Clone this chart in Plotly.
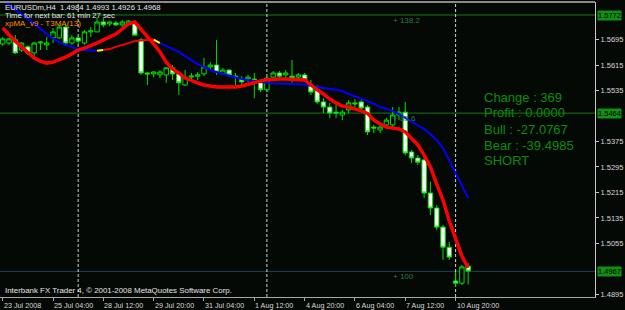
import plotly.graph_objects as go

# ---------------- data ----------------
bars = list(range(75))

opens = [1.5681, 1.5684, 1.5694, 1.5662, 1.5672, 1.5653, 1.5684, 1.5678, 1.5700, 1.5700,
         1.5734, 1.5684, 1.5700, 1.5684, 1.5719, 1.5719, 1.5750, 1.5744, 1.5747, 1.5741,
         1.5744, 1.5747, 1.5694, 1.5590, 1.5587, 1.5584, 1.5584, 1.5606, 1.5587, 1.5552,
         1.5577, 1.5580, 1.5587, 1.5609, 1.5615, 1.5587, 1.5599, 1.5580, 1.5571, 1.5571,
         1.5571, 1.5559, 1.5537, 1.5577, 1.5590, 1.5584, 1.5580, 1.5577, 1.5584, 1.5552,
         1.5537, 1.5499, 1.5483, 1.5467, 1.5458, 1.5474, 1.5496, 1.5499, 1.5483, 1.5420,
         1.5411, 1.5427, 1.5427, 1.5458, 1.5467, 1.5342, 1.5323, 1.5317, 1.5213, 1.5166,
         1.5106, 1.5043, 1.4937, 1.4930, 1.4984]
highs = [1.5703, 1.5700, 1.5709, 1.5687, 1.5678, 1.5687, 1.5690, 1.5703, 1.5731, 1.5741,
         1.5741, 1.5709, 1.5709, 1.5725, 1.5734, 1.5763, 1.5763, 1.5753, 1.5753, 1.5756,
         1.5756, 1.5753, 1.5700, 1.5593, 1.5596, 1.5599, 1.5609, 1.5615, 1.5593, 1.5599,
         1.5590, 1.5593, 1.5637, 1.5624, 1.5694, 1.5606, 1.5602, 1.5590, 1.5580, 1.5584,
         1.5590, 1.5565, 1.5580, 1.5596, 1.5596, 1.5599, 1.5631, 1.5590, 1.5590, 1.5568,
         1.5552, 1.5511, 1.5496, 1.5496, 1.5474, 1.5505, 1.5508, 1.5505, 1.5489, 1.5427,
         1.5433, 1.5449, 1.5483, 1.5483, 1.5499, 1.5348, 1.5332, 1.5323, 1.5248, 1.5175,
         1.5113, 1.5059, 1.4965, 1.4987, 1.4993]
lows = [1.5675, 1.5678, 1.5650, 1.5656, 1.5646, 1.5637, 1.5662, 1.5662, 1.5684, 1.5697,
        1.5678, 1.5678, 1.5678, 1.5678, 1.5703, 1.5719, 1.5734, 1.5737, 1.5737, 1.5734,
        1.5741, 1.5706, 1.5584, 1.5552, 1.5577, 1.5574, 1.5559, 1.5568, 1.5521, 1.5549,
        1.5568, 1.5568, 1.5580, 1.5599, 1.5584, 1.5584, 1.5577, 1.5552, 1.5552, 1.5562,
        1.5511, 1.5530, 1.5530, 1.5571, 1.5568, 1.5574, 1.5559, 1.5571, 1.5565, 1.5521,
        1.5493, 1.5464, 1.5449, 1.5449, 1.5442, 1.5464, 1.5483, 1.5474, 1.5395, 1.5401,
        1.5401, 1.5417, 1.5417, 1.5442, 1.5332, 1.5307, 1.5301, 1.5197, 1.5144, 1.5097,
        1.5003, 1.5003, 1.4918, 1.4924, 1.4926]
closes = [1.5697, 1.5697, 1.5653, 1.5684, 1.5653, 1.5684, 1.5687, 1.5684, 1.5719, 1.5734,
          1.5684, 1.5700, 1.5690, 1.5719, 1.5722, 1.5750, 1.5741, 1.5750, 1.5741, 1.5750,
          1.5753, 1.5709, 1.5590, 1.5587, 1.5593, 1.5593, 1.5606, 1.5587, 1.5559, 1.5577,
          1.5580, 1.5584, 1.5609, 1.5615, 1.5593, 1.5599, 1.5584, 1.5577, 1.5562, 1.5577,
          1.5568, 1.5537, 1.5574, 1.5590, 1.5580, 1.5590, 1.5574, 1.5584, 1.5568, 1.5530,
          1.5499, 1.5483, 1.5464, 1.5464, 1.5467, 1.5496, 1.5493, 1.5480, 1.5405, 1.5417,
          1.5420, 1.5442, 1.5458, 1.5467, 1.5339, 1.5323, 1.5310, 1.5213, 1.5166, 1.5106,
          1.5043, 1.5012, 1.4930, 1.4981, 1.4968]

# T3MA(13) - thick red line
t3ma = [1.5731, 1.5709, 1.5690, 1.5672, 1.5653, 1.5637, 1.5627, 1.5621, 1.5624, 1.5631,
        1.5640, 1.5650, 1.5662, 1.5668, 1.5675, 1.5684, 1.5694, 1.5703, 1.5712, 1.5728,
        1.5744, 1.5750, 1.5728, 1.5703, 1.5681, 1.5656, 1.5624, 1.5602, 1.5590, 1.5574,
        1.5565, 1.5559, 1.5552, 1.5549, 1.5546, 1.5546, 1.5546, 1.5546, 1.5549, 1.5555,
        1.5559, 1.5565, 1.5569, 1.5571, 1.5571, 1.5571, 1.5571, 1.5569, 1.5568, 1.5552,
        1.5537, 1.5524, 1.5508, 1.5496, 1.5486, 1.5483, 1.5478, 1.5471, 1.5463, 1.5442,
        1.5430, 1.5420, 1.5417, 1.5414, 1.5405, 1.5386, 1.5364, 1.5332, 1.5295, 1.5241,
        1.5191, 1.5125, 1.5069, 1.5015, 1.4978]

# xpMA_v9 - colour depends on direction
xpma = [1.5819, 1.5803, 1.5788, 1.5775, 1.5759, 1.5744, 1.5728, 1.5712, 1.5697, 1.5687,
        1.5678, 1.5672, 1.5665, 1.5662, 1.5661, 1.5660, 1.5662, 1.5665, 1.5672, 1.5678,
        1.5684, 1.5690, 1.5692, 1.5694, 1.5695, 1.5684, 1.5675, 1.5665, 1.5656, 1.5643,
        1.5631, 1.5618, 1.5609, 1.5599, 1.5593, 1.5587, 1.5580, 1.5576, 1.5571, 1.5568,
        1.5563, 1.5560, 1.5559, 1.5557, 1.5556, 1.5555, 1.5555, 1.5555, 1.5554, 1.5550,
        1.5546, 1.5543, 1.5540, 1.5537, 1.5533, 1.5524, 1.5516, 1.5508, 1.5502, 1.5494,
        1.5483, 1.5478, 1.5471, 1.5461, 1.5449, 1.5439, 1.5427, 1.5414, 1.5398, 1.5379,
        1.5354, 1.5314, 1.5273, 1.5235, 1.5197]

time_tick_bars = [0, 8, 16, 24, 32, 40, 48, 56, 64, 72]
time_labels = ["23 Jul 2008", "25 Jul 04:00", "28 Jul 12:00", "29 Jul 20:00", "31 Jul 04:00",
               "1 Aug 12:00", "4 Aug 20:00", "6 Aug 04:00", "7 Aug 12:00", "10 Aug 20:00"]
price_ticks = [1.5695, 1.5615, 1.5535, 1.5375, 1.5295, 1.5215, 1.5135, 1.5055, 1.4895]
separator_bars = [12, 42, 72]
level_prices = [1.5772, 1.5464, 1.4967]
fib_texts = ["+ 138.2", "+ 83.6", "+ 100"]
info_lines = ["Change : 369", "Profit : 0.0000", "Bull : -27.0767", "Bear : -39.4985", "SHORT"]
header_lines = ["EURUSDm,H4  1.4984 1.4993 1.4926 1.4968", "Time for next bar: 61 min 27 sec"]
indicator_label = "xpMA_v9 - T3MA(13)"
copyright_text = "Interbank FX Trader 4, \u00a9 2001-2008 MetaQuotes Software Corp."

# ---------------- figure ----------------
FONT = "Liberation Sans, Arial, sans-serif"
BG = "#050905"
CANDLE = "#00e000"

W, H = 625, 310
ML, MR, MT, MB = 0, 30, 2, 13
PW = W - ML - MR
PH = H - MT - MB


def py(p):  # pixel-from-top -> paper y
    return (H - MB - p) / PH


def px(p):
    return (p - ML) / PW


fig = go.Figure()

fig.add_trace(go.Candlestick(
    x=bars, open=opens, high=highs, low=lows, close=closes,
    increasing=dict(line=dict(color=CANDLE, width=1), fillcolor="#000000"),
    decreasing=dict(line=dict(color=CANDLE, width=1), fillcolor="#ffffff"),
    whiskerwidth=0, showlegend=False, hoverinfo="skip"))

# xpMA coloured segments
dirs = []
prev = -1
for i in range(len(xpma) - 1):
    d = xpma[i + 1] - xpma[i]
    s = 1 if d > 0 else (-1 if d < 0 else prev)
    dirs.append(s)
    prev = s
seg_colors = []
for i, s in enumerate(dirs):
    if i > 0 and s != dirs[i - 1]:
        seg_colors.append("#ffff00")
    else:
        seg_colors.append("#ff0000" if s > 0 else "#0000ff")
start = 0
for i in range(1, len(seg_colors) + 1):
    if i == len(seg_colors) or seg_colors[i] != seg_colors[start]:
        fig.add_trace(go.Scatter(x=bars[start:i + 1], y=xpma[start:i + 1], mode="lines",
                                 line=dict(color=seg_colors[start], width=2),
                                 showlegend=False, hoverinfo="skip"))
        start = i

fig.add_trace(go.Scatter(x=bars, y=t3ma, mode="lines",
                         line=dict(color="#ff0000", width=3.5),
                         showlegend=False, hoverinfo="skip"))

bar_px = 6.29
x0_px = 2.7
xr = [-(x0_px - 0) / bar_px, (ML + PW - x0_px) / bar_px]
ppx = 0.0001 / 0.3185
y_top = 1.5772 + (15 - MT) * ppx
y_bot = 1.5772 - (H - MB - 15) * ppx

shapes = []
level_colors = ["#127a12", "#127a12", "#1d4550"]
for lv, c in zip(level_prices, level_colors):
    shapes.append(dict(type="line", xref="paper", x0=0, x1=1, yref="y", y0=lv, y1=lv,
                       line=dict(color=c, width=1), layer="below"))
for b in separator_bars:
    shapes.append(dict(type="line", xref="x", x0=b, x1=b, yref="paper", y0=0, y1=1,
                       line=dict(color="#d0d0d0", width=1, dash="3px,2px"), layer="below"))
shapes.append(dict(type="line", xref="paper", x0=0, x1=1, yref="paper", y0=1, y1=1,
                   line=dict(color="#8a8a8a", width=2)))

ann = []
for b, t in zip(time_tick_bars, time_labels):
    ann.append(dict(x=b, xref="x", xanchor="left", xshift=-1, y=0, yref="paper",
                    yanchor="top", yshift=-2, text=t, showarrow=False,
                    font=dict(family=FONT, size=7.2, color="#d8d8d8")))
for lv in level_prices:
    ann.append(dict(x=1, xref="paper", xanchor="left", xshift=2, y=lv, yref="y",
                    text=f"{lv:.4f}", showarrow=False, bgcolor="#119011", borderpad=0,
                    font=dict(family=FONT, size=7.5, color="#000000")))
for lv, t in zip(level_prices, fib_texts):
    ann.append(dict(x=px(391), xref="paper", xanchor="left", y=lv, yref="y",
                    yshift=-5, text=t, showarrow=False,
                    font=dict(family=FONT, size=8, color="#2f7a3f")))
for i, t in enumerate(info_lines):
    ann.append(dict(x=px(482), xref="paper", xanchor="left", y=py(97 + 16 * i), yref="paper",
                    yanchor="middle", text=t, showarrow=False,
                    font=dict(family=FONT, size=13, color="#0a8c0a")))
for i, t in enumerate(header_lines):
    ann.append(dict(x=px(3), xref="paper", xanchor="left", y=py(7.5 + 8 * i), yref="paper",
                    yanchor="middle", text=t, showarrow=False,
                    font=dict(family=FONT, size=7.7, color="#e6e6e6")))
ann.append(dict(x=px(3), xref="paper", xanchor="left", y=py(23.5), yref="paper",
                yanchor="middle", text=indicator_label, showarrow=False,
                font=dict(family=FONT, size=8, color="#ff8c00")))
ann.append(dict(x=px(3), xref="paper", xanchor="left", y=py(290), yref="paper",
                yanchor="middle", text=copyright_text, showarrow=False,
                font=dict(family=FONT, size=7.9, color="#e6e6e6")))

fig.update_layout(
    width=W, height=H,
    margin=dict(l=ML, r=MR, t=MT, b=MB, pad=0),
    paper_bgcolor=BG, plot_bgcolor=BG,
    showlegend=False,
    boxgap=0.3, boxgroupgap=0,
    shapes=shapes, annotations=ann,
    xaxis=dict(range=xr, showgrid=False, zeroline=False, showline=True,
               linecolor="#a8a8a8", linewidth=1, ticks="outside", ticklen=3,
               tickcolor="#a8a8a8", tickvals=time_tick_bars, showticklabels=False,
               rangeslider=dict(visible=False), fixedrange=True),
    yaxis=dict(range=[y_bot, y_top], side="right", showgrid=False, zeroline=False,
               showline=True, linecolor="#c8c8c8", linewidth=1, ticks="outside",
               ticklen=3, tickcolor="#c8c8c8", tickvals=price_ticks,
               ticktext=[f"{p:.4f}" for p in price_ticks],
               tickfont=dict(family=FONT, size=7.5, color="#d8d8d8"), fixedrange=True),
)

fig.write_html("out.html", config={"displayModeBar": False})
